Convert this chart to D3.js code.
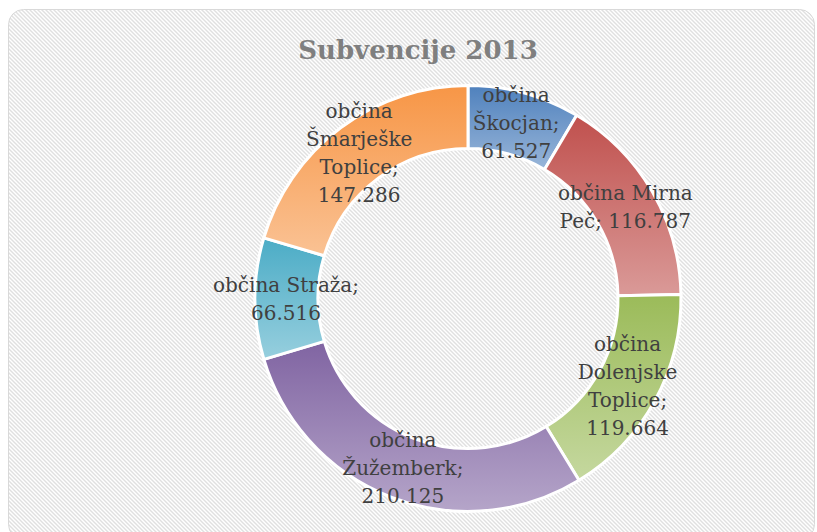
<!DOCTYPE html>
<html>
<head>
<meta charset="utf-8">
<script src="https://cdn.jsdelivr.net/npm/d3@7"></script>
<style>
  body { margin: 0; background: #fff; }
</style>
</head>
<body>
<div class="main"></div>
<script>
// Data
const categories = ['občina Škocjan', 'občina Mirna Peč', 'občina Dolenjske Toplice', 'občina Žužemberk', 'občina Straža', 'občina Šmarješke Toplice'];
const values = [61527, 116787, 119664, 210125, 66516, 147286];
const colors = ['#4F81BD', '#C0504D', '#9BBB59', '#8064A2', '#4BACC6', '#F79646'];
// words per line of each data label
const lineWords = [[1, 1, 1], [2, 2], [1, 1, 1, 1], [1, 1, 1], [2, 1], [1, 1, 1, 1]];
const title = 'Subvencije 2013';

// Layout
const width = 817;
const height = 532;
const cx = 468, cy = 298.5;
const outerR = 213, innerR = 150, labelR = 182;

const loc = d3.formatLocale({ decimal: ',', thousands: '.', grouping: [3], currency: ['', ''] });
const fmt = loc.format(',');

const data = categories.map((c, i) => ({ name: c, value: values[i], color: colors[i], lines: lineWords[i] }));

const svg = d3.select('.main')
  .append('svg')
  .attr('width', width)
  .attr('height', height);

const defs = svg.append('defs');

// hatched background
const pat = defs.append('pattern')
  .attr('id', 'hatch')
  .attr('patternUnits', 'userSpaceOnUse')
  .attr('width', 4)
  .attr('height', 4);
pat.append('rect').attr('width', 4).attr('height', 4).attr('fill', '#ffffff');
pat.append('path')
  .attr('d', 'M-1,-1 L5,5 M-1,3 L1,5 M3,-1 L5,1')
  .attr('stroke', '#e0e0e0')
  .attr('stroke-width', 1.4);

// gradients per slice
data.forEach((d, i) => {
  const g = defs.append('linearGradient')
    .attr('id', 'grad' + i)
    .attr('x1', 0).attr('y1', 0).attr('x2', 0).attr('y2', 1);
  g.append('stop').attr('offset', '0%').attr('stop-color', d.color);
  g.append('stop').attr('offset', '100%').attr('stop-color', d3.interpolateRgb(d.color, '#ffffff')(0.42));
});

// chart area
svg.append('rect')
  .attr('x', 8.5)
  .attr('y', 9.5)
  .attr('width', 806)
  .attr('height', 530)
  .attr('rx', 15)
  .attr('fill', 'url(#hatch)')
  .attr('stroke', '#d9d9d9')
  .attr('stroke-width', 1);

// title
svg.append('text')
  .attr('x', 418)
  .attr('y', 59)
  .attr('text-anchor', 'middle')
  .style('font', 'bold 26px "DejaVu Serif", serif')
  .style('fill', '#7f7f7f')
  .text(title);

const pie = d3.pie()
  .sort(null)
  .value(d => d.value);

const arc = d3.arc()
  .innerRadius(innerR)
  .outerRadius(outerR);

const labelArc = d3.arc()
  .innerRadius(labelR)
  .outerRadius(labelR);

const arcs = pie(data);

const g = svg.append('g')
  .attr('transform', `translate(${cx}, ${cy})`);

g.selectAll('path')
  .data(arcs)
  .enter()
  .append('path')
  .attr('d', arc)
  .attr('fill', (d, i) => `url(#grad${i})`)
  .attr('stroke', '#ffffff')
  .attr('stroke-width', 3)
  .attr('stroke-linejoin', 'round');

// data labels
const lineH = 28;
const labels = g.selectAll('text')
  .data(arcs)
  .enter()
  .append('text')
  .attr('text-anchor', 'middle')
  .style('font', '20px "DejaVu Serif", serif')
  .style('fill', '#404040')
  .attr('transform', d => `translate(${labelArc.centroid(d)})`);

labels.each(function (d) {
  const words = (d.data.name + '; ' + fmt(d.data.value)).split(' ');
  const lines = [];
  let k = 0;
  d.data.lines.forEach(n => {
    lines.push(words.slice(k, k + n).join(' '));
    k += n;
  });
  const y0 = -(lines.length - 1) * lineH / 2;
  d3.select(this).selectAll('tspan')
    .data(lines)
    .enter()
    .append('tspan')
    .attr('x', 0)
    .attr('y', (l, j) => y0 + j * lineH)
    .attr('dy', '0.35em')
    .text(l => l);
});
</script>
</body>
</html>
